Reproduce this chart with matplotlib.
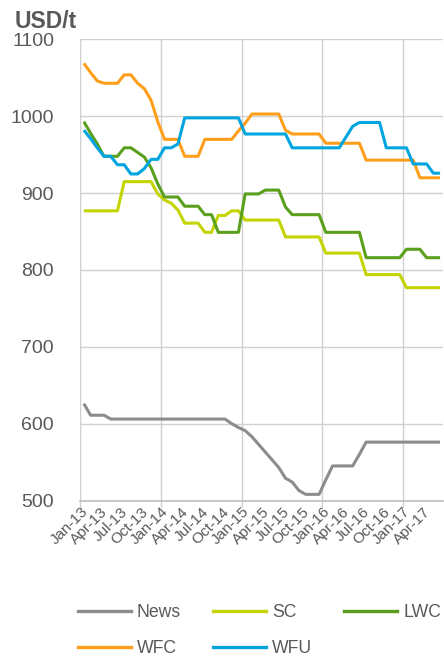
import matplotlib.pyplot as plt
from matplotlib.lines import Line2D

plt.rcParams['font.family'] = ['Liberation Sans', 'DejaVu Sans']

# monthly prices, Jan-13 .. Jun-17 (USD/t)
months = ["Jan-13", "Apr-13", "Jul-13", "Oct-13", "Jan-14", "Apr-14", "Jul-14", "Oct-14",
          "Jan-15", "Apr-15", "Jul-15", "Oct-15", "Jan-16", "Apr-16", "Jul-16", "Oct-16",
          "Jan-17", "Apr-17"]

news = [626, 611, 611, 611, 606, 606, 606, 606, 606, 606, 606, 606, 606, 606, 606, 606,
        606, 606, 606, 606, 606, 606, 600, 595, 591, 583, 573, 563, 553, 543, 529, 524,
        513, 508, 508, 508, 527, 545, 545, 545, 545, 560, 576, 576, 576, 576, 576, 576,
        576, 576, 576, 576, 576, 576]
sc = [877, 877, 877, 877, 877, 877, 915, 915, 915, 915, 915, 899, 891, 887, 878, 861,
      861, 861, 849, 849, 871, 871, 877, 877, 865, 865, 865, 865, 865, 865, 843, 843,
      843, 843, 843, 843, 822, 822, 822, 822, 822, 822, 794, 794, 794, 794, 794, 794,
      777, 777, 777, 777, 777, 777]
lwc = [993, 978, 964, 948, 948, 948, 959, 959, 953, 947, 933, 912, 895, 895, 895, 883,
       883, 883, 872, 872, 849, 849, 849, 849, 899, 899, 899, 904, 904, 904, 882, 872,
       872, 872, 872, 872, 849, 849, 849, 849, 849, 849, 816, 816, 816, 816, 816, 816,
       827, 827, 827, 816, 816, 816]
wfc = [1069, 1057, 1046, 1043, 1043, 1043, 1054, 1054, 1043, 1036, 1021, 993, 970, 970,
       970, 948, 948, 948, 970, 970, 970, 970, 970, 981, 991, 1003, 1003, 1003, 1003, 1003,
       982, 977, 977, 977, 977, 977, 965, 965, 965, 965, 965, 965, 943, 943, 943, 943,
       943, 943, 943, 943, 920, 920, 920, 920]
wfu = [982, 971, 959, 948, 948, 937, 937, 925, 925, 932, 944, 944, 959, 959, 964, 998,
       998, 998, 998, 998, 998, 998, 998, 998, 977, 977, 977, 977, 977, 977, 977, 959,
       959, 959, 959, 959, 959, 959, 959, 973, 987, 992, 992, 992, 992, 959, 959, 959,
       959, 938, 938, 938, 926, 926]

series = [("News", news, "#8c8c8c"), ("SC", sc, "#c3d400"), ("LWC", lwc, "#5aa01c"),
          ("WFC", wfc, "#ff9e1b"), ("WFU", wfu, "#00a5df")]

grid_color = "#d0d0d0"
text_color = "#595959"

fig = plt.figure(figsize=(4.44, 6.57), dpi=100)
ax = fig.add_axes([0.1813, 0.2382, 0.8174, 0.7017])

x = list(range(len(news)))
for name, values, color in series:
    ax.plot(x, values, color=color, lw=2.2, label=name, solid_joinstyle='round',
            solid_capstyle='butt')

ax.set_xlim(-0.5, 53.5)
ax.set_ylim(500, 1100)
ax.set_yticks(range(500, 1101, 100))

# quarterly labels on major ticks, yearly gridlines on minor ticks
ax.xaxis.remove_overlapping_locs = False
ax.set_xticks([-0.5 + 3 * k for k in range(len(months))], months)
ax.set_xticks([-0.5 + 12 * k for k in range(5)], minor=True)
ax.tick_params(axis='x', which='minor', length=4, width=1, color=grid_color)
ax.tick_params(axis='x', which='major', length=0, pad=3, labelsize=11,
               labelcolor=text_color)
for lbl in ax.get_xticklabels():
    lbl.set_rotation(45)
    lbl.set_ha('right')
    lbl.set_va('top')
    lbl.set_rotation_mode('anchor')
ax.tick_params(axis='y', length=0, pad=19, labelsize=14, labelcolor=text_color)

ax.grid(False, axis='x', which='major')
ax.grid(True, axis='x', which='minor', color=grid_color, lw=1)
ax.grid(True, axis='y', which='major', color=grid_color, lw=1)
ax.set_axisbelow(True)
for side in ["top", "right"]:
    ax.spines[side].set_visible(False)
ax.spines["left"].set_color(grid_color)
ax.spines["bottom"].set_color("#bfbfbf")
ax.spines["bottom"].set_linewidth(1.2)

fig.text(0.032, 0.967, "USD/t", fontsize=16.5, fontweight='bold', color=text_color,
         va='center', ha='left')

# legend filled row by row: News SC LWC / WFC WFU
order = [0, 3, 1, 4, 2]
handles = [Line2D([], [], color=series[i][2], lw=2.4) for i in order]
leg = fig.legend(handles, [series[i][0] for i in order], ncol=3, loc='upper left',
                 bbox_to_anchor=(0.1757, 0.0807), frameon=False, fontsize=12.7,
                 handlelength=3.0, handletextpad=0.34, columnspacing=1.82,
                 borderpad=0, borderaxespad=0, labelspacing=1.06)
for t in leg.get_texts():
    t.set_color(text_color)

plt.savefig("out.png", dpi=100)
